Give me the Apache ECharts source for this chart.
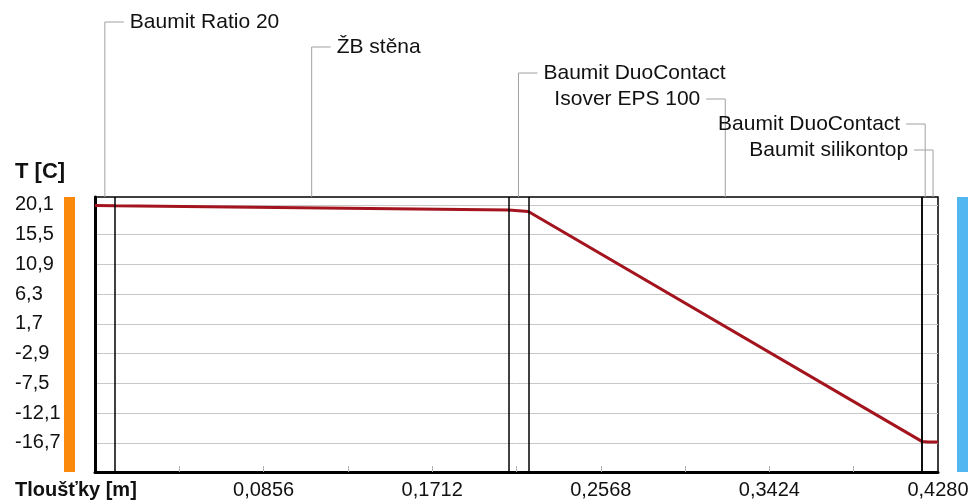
<!DOCTYPE html>
<html>
<head>
<meta charset="utf-8">
<script src="https://cdn.jsdelivr.net/npm/echarts@6/dist/echarts.min.js"></script>
<style>
  html, body { margin: 0; padding: 0; background: #fff; }
  #chart { width: 974px; height: 504px; }
</style>
</head>
<body>
<div id="chart"></div>
<script>
// Wall composition, from the interior to the exterior
const layerNames = ['Baumit Ratio 20', 'ŽB stěna', 'Baumit DuoContact', 'Isover EPS 100', 'Baumit DuoContact', 'Baumit silikontop'];
const layerThickness = [0.01, 0.2, 0.01, 0.2, 0.003, 0.005];

// Temperature course through the wall: depth [m] and temperature [°C]
const profileDepth = [0, 0.01, 0.21, 0.22, 0.42, 0.423, 0.428];
const profileTemp = [20.0, 19.95, 19.3, 19.05, -16.5, -16.55, -16.55];

// Axis ticks
const tempTicks = [20.1, 15.5, 10.9, 6.3, 1.7, -2.9, -7.5, -12.1, -16.7];
const depthLabels = [0.0856, 0.1712, 0.2568, 0.3424, 0.4280];
const depthTicks = [0.0428, 0.0856, 0.1284, 0.1712, 0.2140, 0.2568, 0.2996, 0.3424, 0.3852];

const X_MAX = 0.428;
const Y_MIN = -21.2;
const Y_MAX = 21.3;

const FONT = "'Liberation Sans', Arial, sans-serif";

// layer boundaries and centres from the thicknesses
const boundaries = [];
const centres = [];
let acc = 0;
layerThickness.forEach(t => {
  centres.push(acc + t / 2);
  acc += t;
  boundaries.push(acc);
});
const innerBoundaries = boundaries.slice(0, -1);

// label placement above the plot (pixel row, side of the leader)
const labelRows = [22, 47, 73, 99, 124, 150];
const labelSide = [1, 1, 1, -1, -1, -1];
const LEADER = 19;
const GAP = 6;

const chart = echarts.init(document.getElementById('chart'), null, { renderer: 'canvas' });

const option = {
  animation: false,
  backgroundColor: '#fff',
  grid: {
    left: 95, right: 36, top: 197, bottom: 32,
    show: true, borderColor: '#000', borderWidth: 1.5, backgroundColor: 'transparent'
  },
  xAxis: {
    type: 'value', min: 0, max: X_MAX,
    axisLine: { show: true, onZero: false, lineStyle: { color: '#000', width: 3 } },
    axisTick: { show: true, inside: true, length: 6, customValues: depthTicks, lineStyle: { color: '#b0b0b0', width: 1 } },
    axisLabel: {
      customValues: depthLabels, color: '#111', fontFamily: FONT, fontSize: 20, margin: 8,
      formatter: v => v.toFixed(4).replace('.', ',')
    },
    splitLine: { show: false }
  },
  yAxis: {
    type: 'value', min: Y_MIN, max: Y_MAX,
    axisLine: { show: true, onZero: false, lineStyle: { color: '#000', width: 3 } },
    axisTick: { show: false, customValues: tempTicks },
    axisLabel: {
      customValues: tempTicks, color: '#111', fontFamily: FONT, fontSize: 20,
      align: 'left', margin: 80, verticalAlign: 'middle', padding: [8, 0, 0, 0],
      formatter: v => v.toFixed(1).replace('.', ',')
    },
    splitLine: { show: true, lineStyle: { color: '#c8c8c8', width: 1 } }
  },
  series: [
    {
      type: 'line',
      data: profileDepth.map((d, i) => [d, profileTemp[i]]),
      symbol: 'none',
      lineStyle: { color: '#a3141e', width: 3 },
      z: 3,
      markLine: {
        silent: true, symbol: 'none',
        label: { show: false },
        lineStyle: { color: '#000', width: 1.5, type: 'solid' },
        data: innerBoundaries.map(b => ({ xAxis: b }))
      }
    },
    {
      // layer names with leader lines above the plot
      type: 'custom',
      clip: false,
      silent: true,
      data: centres.map((c, i) => [c, i]),
      encode: { x: 0, y: 1 },
      renderItem: (params, api) => {
        const i = api.value(1);
        const pt = api.coord([api.value(0), Y_MAX]);
        const x = pt[0], top = pt[1];
        const row = labelRows[i];
        const dir = labelSide[i];
        return {
          type: 'group',
          children: [
            {
              type: 'polyline',
              shape: { points: [[x, top], [x, row], [x + dir * LEADER, row]] },
              style: { stroke: '#a0a0a0', lineWidth: 1, fill: null }
            },
            {
              type: 'text',
              style: {
                text: layerNames[i],
                x: x + dir * (LEADER + GAP), y: row,
                align: dir > 0 ? 'left' : 'right', verticalAlign: 'middle',
                fontFamily: FONT, fontSize: 21, fill: '#111'
              }
            }
          ]
        };
      }
    }
  ]
};

chart.setOption(option);

// interior / exterior colour strips and axis titles
const tl = chart.convertToPixel({ gridIndex: 0 }, [0, Y_MAX]);
const br = chart.convertToPixel({ gridIndex: 0 }, [X_MAX, Y_MIN]);
chart.setOption({
  graphic: [
    { type: 'rect', shape: { x: tl[0] - 31, y: tl[1], width: 11, height: br[1] - tl[1] }, style: { fill: '#fb8a0c' } },
    { type: 'rect', shape: { x: br[0] + 19, y: tl[1], width: 11, height: br[1] - tl[1] }, style: { fill: '#52b6f0' } },
    { type: 'text', left: 15, top: 161, style: { text: 'T [C]', fontFamily: FONT, fontWeight: 'bold', fontSize: 22, fill: '#111' } },
    { type: 'text', left: 15, top: 480, style: { text: 'Tloušťky [m]', fontFamily: FONT, fontWeight: 'bold', fontSize: 20, fill: '#111' } }
  ]
});
</script>
</body>
</html>
